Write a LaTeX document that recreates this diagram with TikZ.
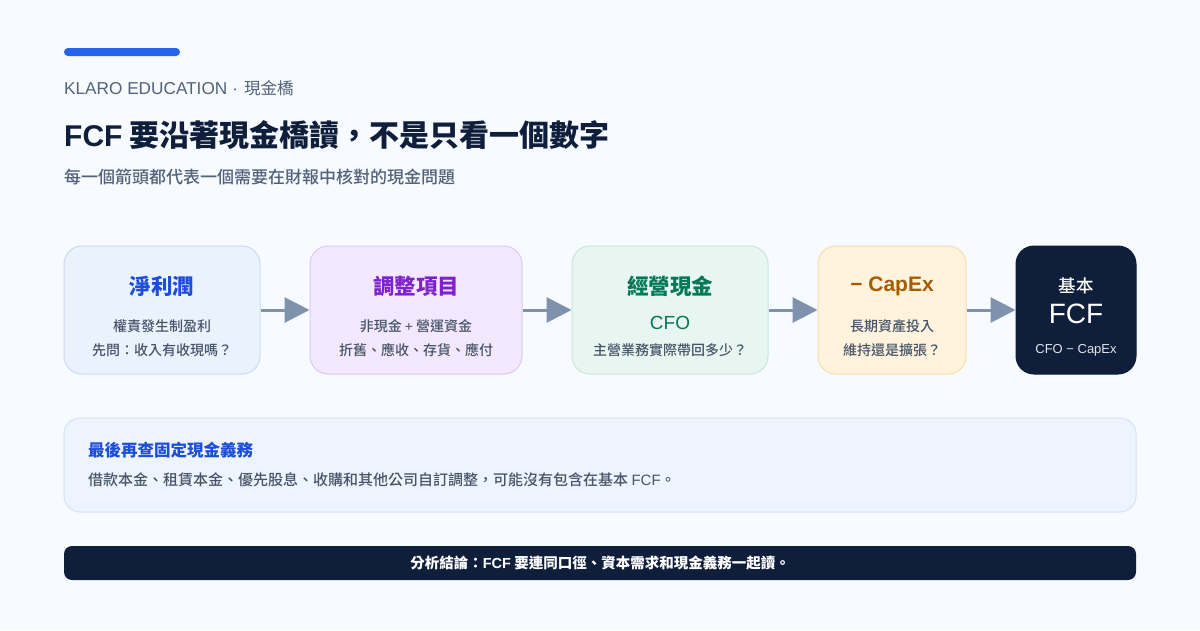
\documentclass[tikz,border=0pt]{standalone}
\usepackage{fontspec}
\setmainfont{Noto Sans CJK TC}
\newfontfamily\medf{Noto Sans CJK TC Medium}
\newfontfamily\latf{Liberation Sans}
\newcommand\lat[1]{{\latf #1}}
\usetikzlibrary{arrows.meta}
\definecolor{bg}{HTML}{F7FAFE}
\definecolor{accent}{HTML}{2563EB}
\definecolor{slate}{HTML}{52627A}
\definecolor{navy}{HTML}{0F1E3A}
\definecolor{body}{HTML}{475569}
\definecolor{arrowc}{HTML}{7E92AE}
\definecolor{f1}{HTML}{EAF2FE}\definecolor{d1}{HTML}{C9DAF5}\definecolor{t1}{HTML}{1D4ED8}
\definecolor{f2}{HTML}{F3E8FF}\definecolor{d2}{HTML}{DCC8F5}\definecolor{t2}{HTML}{7E22CE}
\definecolor{f3}{HTML}{E8F6F2}\definecolor{d3}{HTML}{C8E6DC}\definecolor{t3}{HTML}{047857}
\definecolor{f4}{HTML}{FFF3DD}\definecolor{d4}{HTML}{F5DDA8}\definecolor{t4}{HTML}{A35C00}
\definecolor{f6}{HTML}{EEF4FE}\definecolor{d6}{HTML}{D6E2F5}
\tikzset{
  stagebox/.style={draw, line width=1pt, rounded corners=18pt, minimum height=128pt, inner sep=0pt},
  stagetitle/.style={font=\bfseries\fontsize{21.5}{25}\selectfont},
  stageline/.style={text=body, font=\medf\fontsize{14}{16}\selectfont},
  arr/.style={draw=arrowc, line width=3pt, -{Triangle[length=25pt,width=25pt]}},
}
\begin{document}
\begin{tikzpicture}[x=1pt,y=-1pt]
\useasboundingbox (0,0) rectangle (1200,630);
\fill[bg] (0,0) rectangle (1200,630);
% accent bar
\fill[accent, rounded corners=4pt] (64,48) rectangle (180,56);
\node[anchor=west, text=slate, font=\fontsize{16.5}{20}\selectfont, inner sep=0pt] (brand) at (64,88) {\lat{\fontsize{17.2}{20}\selectfont KLARO EDUCATION\hspace{5pt}·\hspace{6pt}}現金橋};
\node[anchor=west, text=navy, font=\bfseries\fontsize{30}{34}\selectfont, inner sep=0pt] (title) at (64,135) {\lat{FCF} 要沿著現金橋讀，不是只看一個數字};
\node[anchor=west, text=slate, font=\medf\fontsize{17}{20}\selectfont, inner sep=0pt] (sub) at (64,177) {每一個箭頭都代表一個需要在財報中核對的現金問題};

% stage boxes
\node[stagebox, fill=f1, draw=d1, minimum width=196pt] (b1) at (162,310) {};
\node[stagebox, fill=f2, draw=d2, minimum width=212pt] (b2) at (416,310) {};
\node[stagebox, fill=f3, draw=d3, minimum width=196pt] (b3) at (670,310) {};
\node[stagebox, fill=f4, draw=d4, minimum width=148pt] (b4) at (892,310) {};
\node[stagebox, fill=navy, draw=navy, minimum width=120pt] (b5) at (1076,310) {};

% box 1
\node[stagetitle, text=t1] (b1t) at (162,286) {淨利潤};
\node[stageline] (b1a) at (162,326) {權責發生制盈利};
\node[stageline] (b1b) at (162,350) {先問：收入有收現嗎？};
% box 2
\node[stagetitle, text=t2] (b2t) at (416,286) {調整項目};
\node[stageline] (b2a) at (416,326) {非現金 \lat{+} 營運資金};
\node[stageline] (b2b) at (416,350) {折舊、應收、存貨、應付};
% box 3
\node[stagetitle, text=t3] (b3t) at (670,286) {經營現金};
\node[text=t3, font=\latf\fontsize{19}{22}\selectfont] (b3c) at (670,323) {CFO};
\node[stageline] (b3b) at (670,350) {主營業務實際帶回多少？};
% box 4
\node[text=t4, font=\latf\bfseries\fontsize{21}{25}\selectfont] (b4t) at (892,286) {− CapEx};
\node[stageline] (b4a) at (892,326) {長期資產投入};
\node[stageline] (b4b) at (892,350) {維持還是擴張？};
% box 5
\node[text=white, font=\medf\fontsize{17.5}{20}\selectfont] (b5t) at (1076,286) {基本};
\node[text=white, font=\latf\fontsize{28}{32}\selectfont] (b5f) at (1076,314) {FCF};
\node[text=white!88!navy, font=\latf\fontsize{13}{15}\selectfont] (b5b) at (1076,350) {CFO − CapEx};

% connectors
\draw[arr] (b1.east) -- (b2.west);
\draw[arr] (b2.east) -- (b3.west);
\draw[arr] (b3.east) -- (b4.west);
\draw[arr] (b4.east) -- (b5.west);

% obligations box
\node[draw=d6, fill=f6, line width=1pt, rounded corners=16pt, minimum width=1072pt, minimum height=94pt, inner sep=0pt] (ob) at (600,465) {};
\node[anchor=west, text=t1, font=\bfseries\fontsize{16.5}{20}\selectfont, inner sep=0pt] (obt) at (88,450) {最後再查固定現金義務};
\node[anchor=west, text=body, font=\medf\fontsize{15}{18}\selectfont, inner sep=0pt] (obb) at (88,480) {借款本金、租賃本金、優先股息、收購和其他公司自訂調整，可能沒有包含在基本 \lat{FCF}。};

% footer
\node[fill=navy, rounded corners=8pt, minimum width=1072pt, minimum height=34pt, inner sep=0pt] (foot) at (600,563) {};
\node[text=white, font=\bfseries\fontsize{14.5}{17}\selectfont] (foott) at (600,563) {分析結論：\lat{FCF} 要連同口徑、資本需求和現金義務一起讀。};
\end{tikzpicture}
\end{document}
